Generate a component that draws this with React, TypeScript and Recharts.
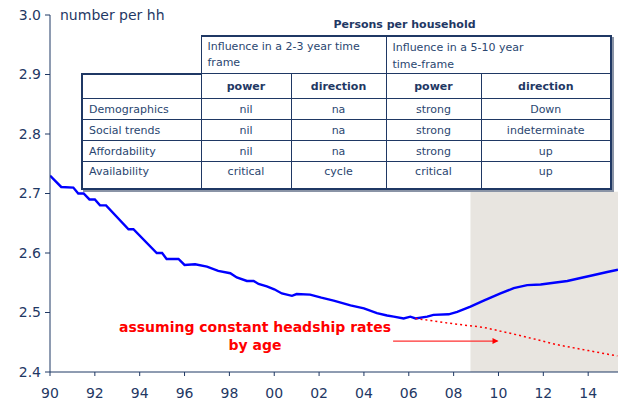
import React from 'react';
import {
  LineChart, Line, XAxis, YAxis, ReferenceArea, ReferenceLine, ReferenceDot,
} from 'recharts';

// persons per household, actual + projection (blue)
const YEARS = [
  1990.0, 1990.5, 1991.04, 1991.26, 1991.5, 1991.76, 1992.0, 1992.23, 1992.5, 1993.5,
  1993.72, 1994.76, 1995.0, 1995.2, 1995.73, 1996.0, 1996.47, 1997.0, 1997.5, 1998.04,
  1998.33, 1998.78, 1999.08, 1999.3, 1999.67, 2000.0, 2000.34, 2000.79, 2001.0, 2001.6,
  2002.1, 2002.65, 2003.4, 2004.0, 2004.58, 2005.03, 2005.33, 2005.77, 2006.07, 2006.3,
  2006.82, 2007.1, 2007.78, 2008.16, 2008.75, 2009.34, 2010.09, 2010.68, 2011.28, 2011.88,
  2012.47, 2013.07, 2013.66, 2014.26, 2014.85, 2015.33,
];
const PERSONS = [
  2.730, 2.711, 2.710, 2.700, 2.700, 2.690, 2.690, 2.680, 2.680, 2.640,
  2.640, 2.600, 2.600, 2.590, 2.590, 2.580, 2.581, 2.577, 2.570, 2.566,
  2.559, 2.553, 2.553, 2.548, 2.544, 2.539, 2.532, 2.528, 2.531, 2.530,
  2.525, 2.520, 2.512, 2.507, 2.499, 2.495, 2.493, 2.490, 2.493, 2.490,
  2.493, 2.496, 2.497, 2.501, 2.510, 2.520, 2.532, 2.541, 2.546, 2.547,
  2.550, 2.553, 2.558, 2.563, 2.568, 2.572,
];

// constant headship rates by age (red dashed)
const HEADSHIP_YEARS = [2006.3, 2008.0, 2009.34, 2011.0, 2012.6, 2014.0, 2015.3];
const HEADSHIP = [2.490, 2.481, 2.475, 2.461, 2.446, 2.436, 2.427];

const X_TICKS = [1990, 1992, 1994, 1996, 1998, 2000, 2002, 2004, 2006, 2008, 2010, 2012, 2014];
const Y_TICKS = [2.4, 2.5, 2.6, 2.7, 2.8, 2.9, 3.0];

const FORECAST_START = 2008.75;
const X_MAX = 2015.33;

const ROW_LABELS = ['Demographics', 'Social trends', 'Affordability', 'Availability'];
const SHORT_POWER = ['nil', 'nil', 'nil', 'critical'];
const SHORT_DIRECTION = ['na', 'na', 'na', 'cycle'];
const LONG_POWER = ['strong', 'strong', 'strong', 'critical'];
const LONG_DIRECTION = ['Down', 'indeterminate', 'up', 'up'];

const actual = YEARS.map((year, i) => ({ year, value: PERSONS[i] }));
const headship = HEADSHIP_YEARS.map((year, i) => ({ year, value: HEADSHIP[i] }));

const NAVY = '#1f3864';
const FONT = '"DejaVu Sans", Verdana, sans-serif';

const cell: React.CSSProperties = {
  border: `1px solid ${NAVY}`,
  padding: 0,
  textAlign: 'center',
  color: '#2a4670',
};

function Arrowhead(props: any) {
  const { cx, cy } = props;
  return <path d={`M${cx - 6},${cy - 3}L${cx},${cy}L${cx - 6},${cy + 3}Z`} fill="#ff0000" />;
}

function InfluenceTable() {
  return (
    <div style={{ position: 'absolute', left: 81, top: 15, width: 529, fontFamily: FONT, fontSize: 11 }}>
      <div style={{ textAlign: 'center', fontWeight: 'bold', color: NAVY, height: 20, lineHeight: '20px', paddingLeft: 118 }}>
        Persons per household
      </div>
      <table style={{ borderCollapse: 'collapse', width: 529, tableLayout: 'fixed', background: 'transparent', boxShadow: '2px 2px 0 #8a94a6' }}>
        <colgroup>
          <col style={{ width: 119 }} />
          <col style={{ width: 90 }} />
          <col style={{ width: 95 }} />
          <col style={{ width: 95 }} />
          <col style={{ width: 130 }} />
        </colgroup>
        <tbody>
          <tr style={{ height: 36 }}>
            <td style={{ padding: 0, border: 'none' }} />
            <td colSpan={2} style={{ ...cell, background: '#fff', textAlign: 'left', padding: '2px 6px 0', verticalAlign: 'top', lineHeight: '16px', borderTop: `2px solid ${NAVY}` }}>
              Influence in a 2-3 year time frame
            </td>
            <td colSpan={2} style={{ ...cell, background: '#fff', textAlign: 'left', padding: '2px 6px 0', verticalAlign: 'top', lineHeight: '17px', borderTop: `2px solid ${NAVY}`, borderRight: `2px solid ${NAVY}` }}>
              Influence in a 5-10 year<br />time-frame
            </td>
          </tr>
          <tr style={{ height: 25, background: '#fff' }}>
            <td style={{ ...cell, borderTop: `2px solid ${NAVY}`, borderLeft: `2px solid ${NAVY}` }} />
            <td style={{ ...cell, fontWeight: 'bold', color: NAVY }}>power</td>
            <td style={{ ...cell, fontWeight: 'bold', color: NAVY }}>direction</td>
            <td style={{ ...cell, fontWeight: 'bold', color: NAVY }}>power</td>
            <td style={{ ...cell, fontWeight: 'bold', color: NAVY, borderRight: `2px solid ${NAVY}` }}>direction</td>
          </tr>
          {ROW_LABELS.map((label, i) => {
            const last = i === ROW_LABELS.length - 1;
            const bottom = last ? { borderBottom: `2px solid ${NAVY}`, verticalAlign: 'top' as const, paddingTop: 3 } : {};
            return (
              <tr key={label} style={{ height: last ? 27 : 21, background: '#fff' }}>
                <td style={{ ...cell, ...bottom, textAlign: 'left', paddingLeft: 6, borderLeft: `2px solid ${NAVY}` }}>{label}</td>
                <td style={{ ...cell, ...bottom }}>{SHORT_POWER[i]}</td>
                <td style={{ ...cell, ...bottom }}>{SHORT_DIRECTION[i]}</td>
                <td style={{ ...cell, ...bottom }}>{LONG_POWER[i]}</td>
                <td style={{ ...cell, ...bottom, borderRight: `2px solid ${NAVY}` }}>{LONG_DIRECTION[i]}</td>
              </tr>
            );
          })}
        </tbody>
      </table>
    </div>
  );
}

export default function App() {
  return (
    <div style={{ position: 'fixed', left: 0, top: 0, width: 621, height: 400, background: '#fff', overflow: 'hidden' }}>
      <LineChart width={621} height={400} margin={{ top: 15, right: 3, bottom: 0, left: 0 }}>
        <ReferenceArea
          x1={FORECAST_START}
          x2={X_MAX}
          y1={2.4}
          y2={2.703}
          fill="#e8e5e0"
          fillOpacity={1}
          stroke="none"
          ifOverflow="hidden"
        />
        <XAxis
          type="number"
          dataKey="year"
          domain={[1990, X_MAX]}
          ticks={X_TICKS}
          tickFormatter={(v: number) => String(v % 100).padStart(2, '0')}
          allowDataOverflow
          height={28}
          stroke={NAVY}
          tick={{ fill: NAVY, fontSize: 14, fontFamily: FONT }}
          tickSize={4}
          tickMargin={12}
        />
        <YAxis
          type="number"
          domain={[2.4, 3.0]}
          ticks={Y_TICKS}
          tickFormatter={(v: number) => v.toFixed(1)}
          width={50}
          stroke={NAVY}
          tick={{ fill: NAVY, fontSize: 14, fontFamily: FONT }}
          tickSize={5}
          tickMargin={4}
        />
        <Line
          data={actual}
          dataKey="value"
          type="linear"
          stroke="#0000ff"
          strokeWidth={2.4}
          dot={false}
          isAnimationActive={false}
        />
        <Line
          data={headship}
          dataKey="value"
          type="linear"
          stroke="#ff0000"
          strokeWidth={1.5}
          strokeDasharray="2 3"
          dot={false}
          isAnimationActive={false}
        />
        <ReferenceLine
          segment={[{ x: 2005.3, y: 2.452 }, { x: 2009.95, y: 2.452 }]}
          stroke="#ff3030"
          strokeWidth={1.3}
        />
        <ReferenceDot x={2010.0} y={2.452} r={3} shape={Arrowhead} />
        <text x={60} y={20} fill={NAVY} fontSize={14} fontFamily={FONT}>number per hh</text>
        <text x={255} y={332} fill="#ff0000" fontSize={14} fontWeight="bold" fontFamily={FONT} textAnchor="middle">
          assuming constant headship rates
        </text>
        <text x={255} y={350} fill="#ff0000" fontSize={14} fontWeight="bold" fontFamily={FONT} textAnchor="middle">
          by age
        </text>
      </LineChart>
      <InfluenceTable />
    </div>
  );
}
